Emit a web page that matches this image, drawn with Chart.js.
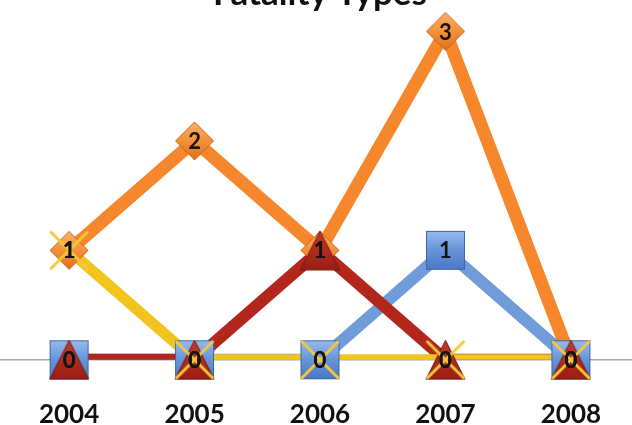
<!DOCTYPE html>
<html>
<head>
<meta charset="utf-8">
<script src="https://cdn.jsdelivr.net/npm/chart.js@4/dist/chart.umd.min.js"></script>
<style>
  html, body { margin: 0; padding: 0; background: #fff; overflow: hidden; width: 632px; height: 425px; }
  /* the title sits half off the top edge in the reference, so the canvas is pulled up */
  #wrap { position: absolute; left: 0; top: -30px; width: 640px; height: 504px; }
</style>
</head>
<body>
<div id="wrap"><canvas id="chart" width="640" height="504" style="width:640px;height:504px"></canvas></div>
<script>
const YEARS = ["2004", "2005", "2006", "2007", "2008"];
const ORANGE_VALUES = [1, 2, 1, 3, 0];
const BLUE_VALUES = [0, 0, 0, 1, 0];
const RED_VALUES = [0, 0, 1, 0, 0];
const YELLOW_VALUES = [1, 0, 0, 0, 0];

const FONT = "Lato, 'Open Sans', sans-serif";

// Small glossy marker images, used as pointStyle (Chart.js centres them on the point).
function sprite(w, h, draw) {
  const c = document.createElement("canvas");
  c.width = w;
  c.height = h;
  draw(c.getContext("2d"), w, h);
  return c;
}

function vgrad(ctx, h, stops) {
  const g = ctx.createLinearGradient(0, 0, 0, h);
  stops.forEach(([at, col]) => g.addColorStop(at, col));
  return g;
}

const diamondImg = sprite(40, 40, (ctx, w, h) => {
  ctx.beginPath();
  ctx.moveTo(w / 2, 1);
  ctx.lineTo(w - 1, h / 2);
  ctx.lineTo(w / 2, h - 1);
  ctx.lineTo(1, h / 2);
  ctx.closePath();
  ctx.fillStyle = vgrad(ctx, h, [[0, "#fcb36a"], [0.5, "#f5913a"], [1, "#de6e1b"]]);
  ctx.fill();
  ctx.lineJoin = "round";
  ctx.strokeStyle = "#c9651a";
  ctx.lineWidth = 1;
  ctx.stroke();
});

const squareImg = sprite(41, 41, (ctx, w, h) => {
  ctx.fillStyle = vgrad(ctx, h, [[0, "#9bbdee"], [0.45, "#6b98dc"], [1, "#4876c2"]]);
  ctx.fillRect(1, 1, w - 2, h - 2);
  ctx.strokeStyle = "#3d67a8";
  ctx.lineWidth = 1;
  ctx.strokeRect(1.5, 1.5, w - 3, h - 3);
});

const triangleImg = sprite(41, 41, (ctx, w, h) => {
  ctx.beginPath();
  ctx.moveTo(w / 2, 1);
  ctx.lineTo(w - 1, h - 1);
  ctx.lineTo(1, h - 1);
  ctx.closePath();
  ctx.fillStyle = vgrad(ctx, h, [[0, "#c63b2c"], [1, "#981d13"]]);
  ctx.fill();
  ctx.strokeStyle = "#7a140d";
  ctx.lineWidth = 1;
  ctx.stroke();
});

const crossImg = sprite(42, 42, (ctx, w, h) => {
  ctx.strokeStyle = "#f2c83a";
  ctx.lineWidth = 3;
  ctx.lineCap = "round";
  ctx.beginPath();
  ctx.moveTo(3, 3);
  ctx.lineTo(w - 3, h - 3);
  ctx.moveTo(w - 3, 3);
  ctx.lineTo(3, h - 3);
  ctx.stroke();
});

// Grey baseline across the whole width, under the lines.
const baseline = {
  id: "baseline",
  beforeDatasetsDraw(chart) {
    const { ctx, chartArea } = chart;
    ctx.save();
    ctx.strokeStyle = "#a8a8a8";
    ctx.lineWidth = 1.5;
    ctx.beginPath();
    ctx.moveTo(0, chartArea.bottom);
    ctx.lineTo(chart.width, chartArea.bottom);
    ctx.stroke();
    ctx.restore();
  },
};

// Value printed in the middle of every marker.
const valueLabels = {
  id: "valueLabels",
  afterDatasetsDraw(chart) {
    const ctx = chart.ctx;
    ctx.save();
    ctx.font = "bold 22px " + FONT;
    ctx.fillStyle = "#151515";
    ctx.textAlign = "center";
    ctx.textBaseline = "middle";
    chart.data.datasets.forEach((ds, i) => {
      if (!ds.showValues) return;
      chart.getDatasetMeta(i).data.forEach((pt, j) => {
        ctx.fillText(String(ds.data[j]), pt.x, pt.y + 1);
      });
    });
    ctx.restore();
  },
};

// Lines are cut at the plot bottom (so the zero runs show only half their width),
// markers are not. Higher order = drawn further down.
const lines = [
  { label: "Yellow", data: YELLOW_VALUES, borderColor: "#f2c41e", borderWidth: 11, order: 10 },
  { label: "Red", data: RED_VALUES, borderColor: "#b3261c", borderWidth: 12, order: 11 },
  { label: "Blue", data: BLUE_VALUES, borderColor: "#709cda", borderWidth: 12, order: 12 },
  { label: "Orange", data: ORANGE_VALUES, borderColor: "#f7872c", borderWidth: 13, order: 13 },
].map((d) => ({
  ...d, tension: 0, pointRadius: 0, pointHoverRadius: 0, borderJoinStyle: "round",
  clip: { left: false, top: false, right: false, bottom: 0 },
}));

const markers = [
  { label: "Yellow", data: YELLOW_VALUES, order: 0, pointStyle: crossImg },
  { label: "Red", data: RED_VALUES, order: 1, pointStyle: triangleImg },
  { label: "Blue", data: BLUE_VALUES, order: 2, pointStyle: squareImg },
  { label: "Orange", data: ORANGE_VALUES, order: 3, pointStyle: diamondImg },
].map((d) => ({
  ...d, showLine: false, showValues: true, clip: false,
  pointRadius: 20, pointHoverRadius: 20,
}));

new Chart(document.getElementById("chart"), {
  type: "line",
  data: { labels: YEARS, datasets: [...markers, ...lines] },
  options: {
    responsive: false,
    animation: false,
    events: [],
    layout: { autoPadding: false, padding: { left: 3, right: 3, top: 0, bottom: 5 } },
    plugins: {
      legend: { display: false },
      tooltip: { enabled: false },
      title: {
        display: true,
        text: "Fatality Types",
        color: "#111",
        font: { family: FONT, size: 35, weight: "bold" },
        padding: { top: 3, bottom: 0 },
      },
    },
    scales: {
      x: {
        offset: true,
        grid: { display: false, drawTicks: false },
        border: { display: false },
        ticks: { color: "#111", padding: 39, font: { family: FONT, size: 26, weight: "bold" } },
      },
      y: { display: false, min: 0, max: 3.15 },
    },
  },
  plugins: [baseline, valueLabels],
});
</script>
</body>
</html>
